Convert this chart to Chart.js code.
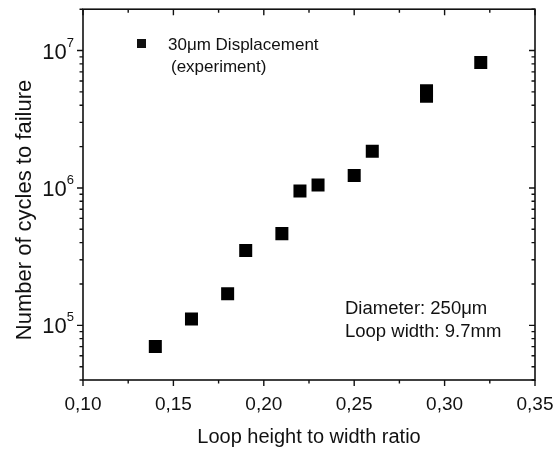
<!DOCTYPE html>
<html>
<head>
<meta charset="utf-8">
<script src="https://cdn.jsdelivr.net/npm/chart.js@4"></script>
<style>
html,body{margin:0;padding:0;background:#fff;}
#wrap{width:556px;height:452px;}
</style>
</head>
<body>
<div id="wrap"><canvas id="c" width="556" height="452"></canvas></div>
<script>
// Data
const ratios = [0.14, 0.16, 0.18, 0.19, 0.21, 0.22, 0.23, 0.25, 0.26, 0.29, 0.29, 0.32];
const cycles = [70000, 111000, 170000, 350000, 465000, 950000, 1050000, 1230000, 1850000, 4650000, 5100000, 8200000];
const xTickValues = [0.10, 0.15, 0.20, 0.25, 0.30, 0.35];
const xTickLabels = ["0,10", "0,15", "0,20", "0,25", "0,30", "0,35"];
const yTickValues = [1e5, 1e6, 1e7];
const yTickExponents = ["5", "6", "7"];
const xTitle = "Loop height to width ratio";
const yTitle = "Number of cycles to failure";
const legendLines = ["30\u03BCm Displacement", "(experiment)"];
const noteLines = ["Diameter: 250\u03BCm", "Loop width: 9.7mm"];

const FONT = '"Liberation Sans", Arial, sans-serif';
const INK = '#111';

const axesPlugin = {
  id: 'axesPlugin',
  afterDraw(chart) {
    const ctx = chart.ctx;
    const a = chart.chartArea;
    const xs = chart.scales.x, ys = chart.scales.y;
    ctx.save();
    ctx.strokeStyle = INK;
    ctx.fillStyle = INK;
    ctx.lineWidth = 1.6;
    // frame
    ctx.strokeRect(a.left, a.top, a.right - a.left, a.bottom - a.top);
    ctx.lineWidth = 1.4;
    ctx.beginPath();
    // x ticks (major + minor)
    for (let i = 0; i < xTickValues.length; i++) {
      const px = xs.getPixelForValue(xTickValues[i]);
      ctx.moveTo(px, a.bottom); ctx.lineTo(px, a.bottom + 6);
      ctx.moveTo(px, a.top); ctx.lineTo(px, a.top + 6);
      if (i < xTickValues.length - 1) {
        const mv = (xTickValues[i] + xTickValues[i + 1]) / 2;
        const mp = xs.getPixelForValue(mv);
        ctx.moveTo(mp, a.bottom); ctx.lineTo(mp, a.bottom + 3.5);
        ctx.moveTo(mp, a.top); ctx.lineTo(mp, a.top + 3.5);
      }
    }
    // y ticks
    for (let e = 4; e <= 7; e++) {
      for (let m = 1; m <= 9; m++) {
        const v = m * Math.pow(10, e);
        if (v < ys.min || v > ys.max) continue;
        const py = ys.getPixelForValue(v);
        const len = m === 1 ? 6 : 3.5;
        ctx.moveTo(a.left, py); ctx.lineTo(a.left - len, py);
        ctx.moveTo(a.right, py); ctx.lineTo(a.right - len, py);
      }
    }
    ctx.stroke();
    // x tick labels
    ctx.font = '19px ' + FONT;
    ctx.textAlign = 'center';
    ctx.textBaseline = 'alphabetic';
    for (let i = 0; i < xTickValues.length; i++) {
      ctx.fillText(xTickLabels[i], xs.getPixelForValue(xTickValues[i]), a.bottom + 30);
    }
    // y tick labels with superscript
    for (let i = 0; i < yTickValues.length; i++) {
      const py = ys.getPixelForValue(yTickValues[i]);
      ctx.font = '13px ' + FONT;
      const ew = ctx.measureText(yTickExponents[i]).width;
      ctx.textAlign = 'right';
      ctx.fillText(yTickExponents[i], a.left - 9, py - 4);
      ctx.font = '22px ' + FONT;
      ctx.fillText("10", a.left - 9 - ew, py + 8);
    }
    // axis titles
    ctx.font = '20px ' + FONT;
    ctx.textAlign = 'center';
    ctx.fillText(xTitle, (a.left + a.right) / 2, a.bottom + 63);
    ctx.save();
    ctx.translate(31, 210);
    ctx.rotate(-Math.PI / 2);
    ctx.font = '22px ' + FONT;
    ctx.fillText(yTitle, 0, 0);
    ctx.restore();
    // legend
    ctx.fillRect(137, 39, 9, 9);
    ctx.font = '17px ' + FONT;
    ctx.textAlign = 'left';
    ctx.fillText(legendLines[0], 168, 50);
    ctx.fillText(legendLines[1], 171, 72);
    // annotation
    ctx.font = '18.5px ' + FONT;
    ctx.fillText(noteLines[0], 345, 314);
    ctx.fillText(noteLines[1], 345, 337);
    ctx.restore();
  }
};

new Chart(document.getElementById('c'), {
  type: 'scatter',
  data: {
    datasets: [{
      data: ratios.map((r, i) => ({ x: r, y: cycles[i] })),
      pointStyle: 'rect',
      pointRadius: 9.2,
      pointHoverRadius: 9.2,
      backgroundColor: '#000',
      borderColor: '#000',
      borderWidth: 0
    }]
  },
  options: {
    responsive: false,
    animation: false,
    events: [],
    layout: { padding: { left: 83, right: 21, top: 8, bottom: 72 } },
    plugins: { legend: { display: false }, tooltip: { enabled: false } },
    scales: {
      x: { type: 'linear', min: 0.10, max: 0.35, display: false },
      y: { type: 'logarithmic', min: 40000, max: 20000000, display: false }
    }
  },
  plugins: [axesPlugin]
});
</script>
</body>
</html>
